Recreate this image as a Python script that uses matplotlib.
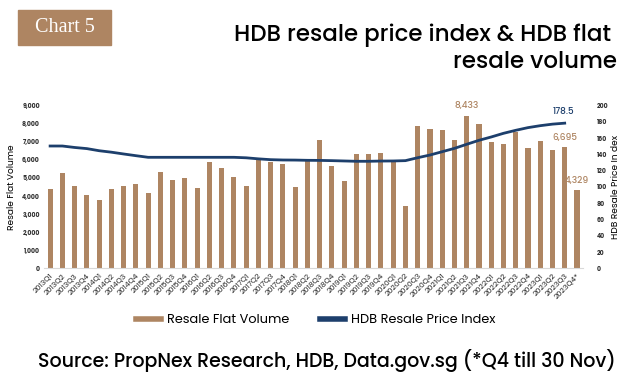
import numpy as np
import matplotlib.pyplot as plt
from matplotlib.patches import Rectangle
from matplotlib.lines import Line2D

plt.rcParams["font.family"] = ["Poppins", "Inter", "DejaVu Sans"]

# 季度
quarters = [f"{y}Q{q}" for y in range(2013, 2024) for q in range(1, 5)]
quarters[-1] = "2023Q4*"

# 转售量
volume = [4370, 5275, 4557, 4058, 3782, 4390, 4557, 4667, 4169, 5331, 4889,
          5000, 4446, 5885, 5554, 5055, 4557, 5996, 5885, 5775, 4502, 5959,
          7103, 5664, 4834, 6328, 6328, 6384, 5959, 3450, 7878, 7712, 7657,
          7103, 8433, 7989, 6993, 6882, 7546, 6661, 7048, 6550, 6695, 4329]

# 价格指数 (2023Q4 无数据)
rpi = [150.4, 150.4, 148.6, 147.2, 144.6, 142.8, 140.6, 138.5, 136.5, 136.5,
       136.5, 136.5, 136.5, 136.5, 136.5, 136.5, 135.9, 134.6, 133.6, 133.2,
       133.1, 132.8, 132.7, 132.4, 132.0, 131.6, 131.6, 131.9, 132.0, 132.4,
       136.0, 139.3, 143.4, 147.5, 152.5, 157.4, 161.5, 166.0, 169.7, 173.0,
       175.4, 177.3, 178.5]

brown = "#AE8562"
navy = "#1D3F6C"

fig = plt.figure(figsize=(6.32, 3.92), dpi=100)
ax = fig.add_axes([0.0696, 0.3156, 0.853, 0.4148])
x = np.arange(len(quarters))
ax.bar(x, volume, width=0.42, color=brown, zorder=2)
ax.set_xlim(-0.5, len(quarters) - 0.5)
ax.set_ylim(0, 9000)
ax.set_yticks(range(0, 9001, 1000))
ax.set_yticklabels([f"{v:,}" for v in range(0, 9001, 1000)],
                   fontsize=4.5, color="#333333", fontweight="bold")
ax.set_xticks(x)
ax.set_xticklabels(quarters, rotation=45, ha="right", rotation_mode="anchor",
                   fontsize=5.5, color="#222222")
ax.tick_params(axis="both", length=0, pad=3)
for s in ["top", "right", "left"]:
    ax.spines[s].set_visible(False)
ax.spines["bottom"].set_color("#d9d9d9")
ax.set_ylabel("Resale Flat Volume", fontsize=6.5, labelpad=4)

ax2 = ax.twinx()
ax2.plot(x[:len(rpi)], rpi, color=navy, linewidth=2.0, zorder=3)
ax2.set_ylim(0, 200)
ax2.set_yticks(range(0, 201, 20))
ax2.set_yticklabels([str(v) for v in range(0, 201, 20)],
                    fontsize=4.5, color="#333333", fontweight="bold")
ax2.tick_params(axis="y", length=0, pad=10)
for s in ["top", "right", "left", "bottom"]:
    ax2.spines[s].set_visible(False)
ax2.set_ylabel("HDB Resale Price In dex", fontsize=6.5, labelpad=2)

# 数据标签
for i in [34, 42, 43]:
    ax.annotate(f"{volume[i]:,}", (x[i], volume[i]), xytext=(0, 4),
                textcoords="offset points", ha="center", va="bottom",
                fontsize=6.5, color=brown, fontweight="medium")
ax2.annotate(f"{rpi[-1]}", (x[len(rpi) - 1], rpi[-1]), xytext=(-1, 5),
             textcoords="offset points", ha="center", va="bottom",
             fontsize=6.5, color=navy, fontweight="medium")

# 标题
fig.patches.append(Rectangle((18 / 632, 1 - 45 / 392), 93 / 632, 35 / 392,
                             transform=fig.transFigure, color=brown))
fig.text(64.5 / 632, 1 - 27.5 / 392, "Chart 5", fontsize=14.5, color="white",
         family="Liberation Serif", ha="center", va="center")
fig.text(617 / 632, 1 - 49 / 392, "HDB resale price index & HDB flat \nresale volume",
         ha="right", va="center", fontsize=16.5, fontweight="medium",
         linespacing=1.25)

# 图例
handles = [Line2D([], [], color=brown, linewidth=4),
           Line2D([], [], color=navy, linewidth=4)]
fig.legend(handles, ["Resale Flat Volume", "HDB Resale Price Index"],
           loc="center", bbox_to_anchor=(0.5, 1 - 320 / 392), ncol=2,
           frameon=False, fontsize=9.3, handlelength=1.9, handletextpad=0.5,
           columnspacing=2.4)

fig.text(327 / 632, 1 - 360 / 392,
         "Source: PropNex Research, HDB, Data.gov.sg (*Q4 till 30 Nov)",
         ha="center", va="center", fontsize=13.7, fontweight="medium")

plt.savefig("out.png", dpi=100)
